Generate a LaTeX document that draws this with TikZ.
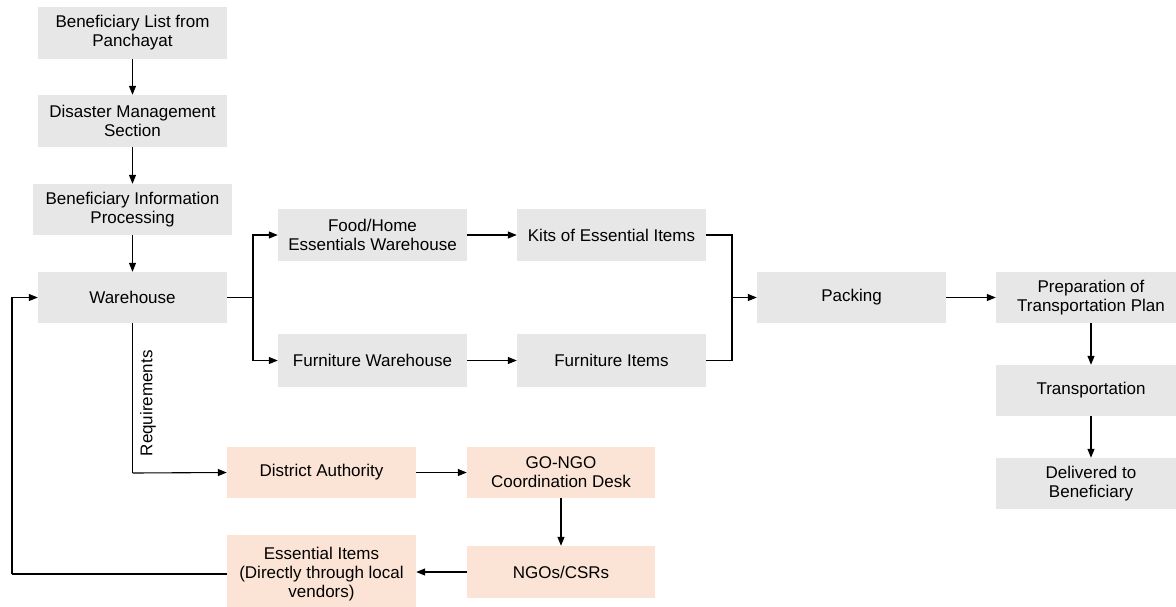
\documentclass[tikz,border=0pt]{standalone}
\usepackage{fontspec}
\setmainfont{Liberation Sans}
\usetikzlibrary{arrows.meta}
\definecolor{boxgray}{HTML}{E7E7E7}
\definecolor{boxpeach}{HTML}{FBE4D5}
\tikzset{
  box/.style={fill=boxgray, draw=none, inner sep=0pt, align=center,
    minimum width=189pt, minimum height=52pt,
    font=\fontsize{17}{19}\selectfont},
  pbox/.style={box, fill=boxpeach},
  conn/.style={line width=1.1pt, draw=black},
  arr/.style={conn, -{Triangle[length=9pt,width=7pt]}},
}
\begin{document}
\begin{tikzpicture}[x=1pt,y=-1pt]
\useasboundingbox (0,0) rectangle (1176,606);
\begin{scope}
\clip (0,0) rectangle (1176,606);
% left column
\node[box] (b1) at (132.5,33) {Beneficiary List from\\Panchayat};
\node[box] (b2) at (132.5,121) {Disaster Management\\Section};
\node[box, minimum width=199pt, minimum height=51pt] (b3) at (132.5,209.5) {Beneficiary Information\\Processing};
\node[box, minimum height=51pt] (wh) at (132.5,297.5) {Warehouse};
% middle
\node[box] (food) at (372.5,235) {Food/Home\\Essentials Warehouse};
\node[box] (kits) at (611.5,235) {Kits of Essential Items};
\node[box, minimum height=53pt] (furnw) at (372.5,360.5) {Furniture Warehouse};
\node[box, minimum height=53pt] (furni) at (611.5,360.5) {Furniture Items};
\node[box, minimum height=51pt] (pack) at (851.5,297.5) {Packing};
% right column
\node[box, minimum width=190pt, minimum height=51pt] (prep) at (1091,297.5) {Preparation of\\Transportation Plan};
\node[box, minimum width=190pt, minimum height=51pt] (trans) at (1091,390.5) {Transportation};
\node[box, minimum width=190pt, minimum height=51pt] (deliv) at (1091,483.5) {Delivered to\\Beneficiary};
% peach
\node[pbox, minimum height=51pt] (dist) at (321.5,472.5) {District Authority};
\node[pbox, minimum width=188pt, minimum height=51pt] (gongo) at (561,472.5) {GO-NGO\\Coordination Desk};
\node[pbox, minimum width=188pt] (ngo) at (561,572) {NGOs/CSRs};
\node[pbox, minimum height=78pt] (ess) at (321.5,574) {Essential Items\\(Directly through local\\vendors)};
\end{scope}
% coordinates
\coordinate (split) at (253,297.5);
\coordinate (merge) at (732,297.5);
\coordinate (reqc) at (132.5,473);
\coordinate (fbc) at (12,574);
% connectors
\draw[arr] (b1) -- (b2);
\draw[arr] (b2) -- (b3);
\draw[arr] (b3) -- (wh);
\draw[conn] (wh.east) -- (split);
\draw[arr] (split) |- (food.west);
\draw[arr] (split) |- (furnw.west);
\draw[arr] (food) -- (kits);
\draw[arr] (furnw) -- (furni);
\draw[conn] (kits.east) -| (merge);
\draw[conn] (furni.east) -| (merge);
\draw[arr] (merge) -- (pack.west);
\draw[arr] (pack) -- (prep);
\draw[arr] (prep.south -| trans.north) -- (trans);
\draw[arr] (trans) -- (deliv);
\draw[conn] (wh.south) -- node[pos=0.535, rotate=90, anchor=north, yshift=-6pt, font=\fontsize{17}{19}\selectfont, inner sep=1pt] (reqlbl) {Requirements} (reqc);
\draw[arr] (reqc) -- (dist.west);
\draw[arr] (dist) -- (gongo);
\draw[arr] (gongo) -- (ngo);
\draw[arr] (ngo) -- (ess.east |- ngo.west);
\draw[conn] (ess.west |- fbc) -- (fbc);
\draw[arr] (fbc) |- (wh.west);
\end{tikzpicture}
\end{document}
